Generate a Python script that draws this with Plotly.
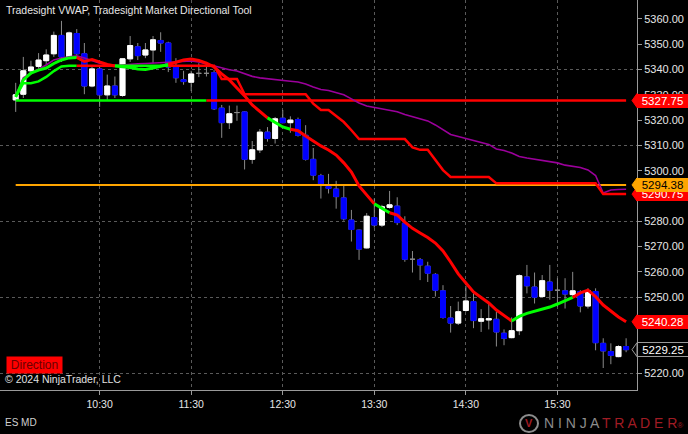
import plotly.graph_objects as go
import pandas as pd

# ---------------- data ----------------
session_start = "2024-08-07 09:35"
bar_times = pd.date_range(session_start, periods=81, freq="5min")

opens = [5328, 5330.25, 5339.5, 5341.25, 5343.5, 5346.25, 5353.5, 5345, 5354.25, 5346.25,
         5333.5, 5340.25, 5330, 5333.5, 5329.75, 5344.25, 5349, 5345.75, 5347.75, 5351.5,
         5350.5, 5341, 5336, 5335, 5338.5, 5338.5, 5338.75, 5324.75, 5319, 5323,
         5323.25, 5304.5, 5308.25, 5315.25, 5312.75, 5320.75, 5319, 5320.25, 5314, 5304.5,
         5298, 5293.75, 5292.75, 5289.25, 5280.5, 5276.5, 5269.5, 5281.5, 5278.5, 5285.5,
         5286, 5279.25, 5265, 5264.75, 5262.25, 5259, 5252.5, 5241.75, 5239.75, 5244.75,
         5248.25, 5240.5, 5241, 5241.25, 5235.75, 5234, 5236.75, 5258, 5254, 5250.25,
         5256, 5252.75, 5252.5, 5251, 5252.25, 5246.5, 5252.25, 5231.75, 5228.5, 5226.5,
         5230.5]
highs = [5334.75, 5345, 5343.5, 5346.5, 5348, 5355, 5359.25, 5355, 5356, 5350.5,
         5341.5, 5341.75, 5338, 5337.25, 5344.5, 5353.25, 5350.5, 5350.5, 5353.25, 5354.75,
         5351, 5344.5, 5339.5, 5339.5, 5342.5, 5343, 5339.75, 5326, 5325.75, 5325.75,
         5323.5, 5311.75, 5316.5, 5317.25, 5321.25, 5324, 5321.5, 5321, 5318, 5309,
         5298.75, 5298.75, 5296, 5294.5, 5284.5, 5276.75, 5283.25, 5289, 5286.5, 5292,
         5289.5, 5282, 5268.25, 5265.5, 5264, 5259.5, 5254.75, 5246.5, 5248.25, 5254.5,
         5251.5, 5245.25, 5247.5, 5244.25, 5237.25, 5242, 5259, 5262.75, 5259.75, 5258.75,
         5262.75, 5257.5, 5257.5, 5260, 5252.75, 5253.5, 5253.5, 5233.75, 5231.75, 5231,
         5233.75]
lows = [5323.25, 5328.75, 5338, 5339.75, 5341.75, 5345, 5343, 5344.5, 5344.5, 5330.25,
        5333, 5325.25, 5328, 5328.75, 5329.25, 5343, 5343.75, 5344.5, 5342.5, 5347,
        5339, 5334.75, 5334, 5331.5, 5337, 5337.25, 5324, 5313, 5316.5, 5319.75,
        5300.5, 5302.75, 5307, 5311.5, 5310.75, 5318.75, 5315, 5313.5, 5304, 5296.25,
        5289, 5291, 5285, 5280.25, 5272, 5264.75, 5269.25, 5277.5, 5277.75, 5285,
        5278.5, 5264, 5259.75, 5256.75, 5256, 5250.25, 5241.5, 5236, 5239, 5244.25,
        5237.75, 5236.25, 5237.25, 5230.5, 5231, 5233.75, 5235, 5251.5, 5247.5, 5250,
        5249, 5246.25, 5245.5, 5250, 5244, 5245.5, 5229, 5222, 5223.5, 5226.25,
        5228.25]
closes = [5330, 5339.5, 5341, 5343.75, 5345.75, 5353.5, 5345, 5354.5, 5346.25, 5333.5,
          5340.25, 5330, 5333.5, 5330, 5344.25, 5349.5, 5345.5, 5347.75, 5351.75, 5350.5,
          5341, 5336.75, 5335.25, 5338.25, 5338.5, 5338.5, 5324.5, 5319, 5322.5, 5323,
          5304.5, 5308.25, 5315.25, 5312.75, 5320.5, 5319, 5320, 5314, 5304.5, 5298.25,
          5294.5, 5293, 5289.75, 5281, 5276.75, 5269, 5282, 5278.5, 5285.75, 5286.5,
          5279.5, 5265, 5265, 5262.75, 5259.5, 5252.75, 5242, 5239.75, 5244.25, 5248.5,
          5240.75, 5241.5, 5241.5, 5236.25, 5233.75, 5236.75, 5258.5, 5254.5, 5250, 5256.5,
          5252.75, 5252.75, 5251.25, 5252.5, 5246.5, 5252.5, 5232, 5228.75, 5227, 5230.5,
          5229.25]

# Tradesight VWAP (magenta line)
vwap = [5329.6, 5336.7, 5338.6, 5340.2, 5341.8, 5343.8, 5344.6, 5345.0, 5345.4, 5344.6,
        5343.4, 5342.5, 5342.0, 5341.6, 5341.8, 5342.1, 5342.3, 5342.4, 5342.6, 5342.7,
        5342.9, 5343.2, 5343.4, 5343.4, 5343.0, 5342.2, 5341.4, 5340.4, 5339.9, 5339.4,
        5338.3, 5337.3, 5336.7, 5336.3, 5336.1, 5335.7, 5335.4, 5335.1, 5334.3, 5333.1,
        5332.1, 5331.7, 5330.9, 5330.0, 5328.4, 5326.8, 5325.6, 5325.0, 5324.5, 5324.0,
        5323.3, 5322.2, 5321.3, 5320.5, 5319.7, 5318.1, 5316.3, 5314.3, 5313.5, 5312.8,
        5312.0, 5311.2, 5310.4, 5308.6, 5308.0, 5307.0, 5305.6, 5305.0, 5304.6, 5304.2,
        5303.7, 5303.1, 5302.2, 5301.8, 5301.3, 5300.3, 5298.1, 5291.2, 5292.4, 5292.6,
        5292.7]

# Directional tool: fast trend line (green = up, red = down)
trend_fast = [5329.2, 5335.9, 5338.6, 5339.8, 5340.6, 5342.4, 5343.8, 5344.6, 5344.8, 5343.2,
              5344.0, 5342.9, 5342.0, 5341.4, 5341.2, 5340.8, 5340.2, 5340.0, 5340.6, 5341.2,
              5342.0, 5343.0, 5343.8, 5344.2, 5343.6, 5342.5, 5341.0, 5338.3, 5335.9, 5332.7,
              5329.6, 5326.0, 5323.6, 5320.9, 5319.1, 5317.3, 5316.4, 5315.8, 5313.7, 5311.6,
              5309.8, 5308.2, 5306.2, 5303.1, 5299.5, 5294.0, 5290.4, 5286.9, 5285.3, 5283.4,
              5282.5, 5279.7, 5277.2, 5275.4, 5273.6, 5271.4, 5268.3, 5263.9, 5259.2, 5255.6,
              5252.1, 5249.9, 5247.7, 5244.9, 5242.6, 5240.6, 5242.4, 5243.6, 5244.5, 5245.1,
              5246.1, 5247.3, 5248.7, 5249.9, 5251.7, 5252.8, 5250.2, 5246.9, 5244.5, 5242.2,
              5240.28]
trend_fast_dir = "GGGGGGGGG" "RRRRR" "GGGGGGG" "RRRRRRRRRRRRR" "GGG" "RRRRRRRRRRR" "GG" \
                 "RRRRRRRRRRRRRRRR" "GGGGGGGG" "RRRRRRR"

# Directional tool: stepped trailing line
trend_step = ([5329.2, 5334.6, 5334.6, 5335.3, 5337.1, 5339.4, 5341.2] + [5341.5] * 20 +
              [5336.25] * 3 + [5330.25] * 9 + [5326.5] + [5324.0] * 2 + [5321.5, 5319.25, 5316.0] +
              [5312.5] * 7 + [5309.25] + [5308.25] * 2 + [5304.25, 5300.25] + [5297.5] * 6 +
              [5295.0] * 14 + [5290.75] * 4)
trend_step_dir = "GGGGGGGGG" "RRRRR" "GGGGGGG" + "R" * 60

# Horizontal levels
level_open = [5327.75] * 81
level_open_dir = "G" * 26 + "R" * 55
level_orange = [5294.38] * 81

y_ticks = [5220, 5230, 5240, 5250, 5260, 5270, 5280, 5290, 5300, 5310, 5320, 5330, 5340, 5350, 5360]
y_grid = [5220, 5250, 5280, 5310, 5340]
x_tick_labels = ["10:30", "11:30", "12:30", "13:30", "14:30", "15:30"]
x_ticks = ["2024-08-07 " + t for t in x_tick_labels]

# ---------------- layout constants ----------------
W, H = 688, 434
ML, MR, MT, MB = 0, 51, 0, 44
PW, PH = W - ML - MR, H - MT - MB
YMIN, YMAX = 5213.3, 5367.5
XMIN, XMAX = "2024-08-07 09:24:43", "2024-08-07 16:22:08"
FONT = "Liberation Sans, Arial, sans-serif"
GREEN, RED, BLUE = "#00ff00", "#ff0000", "#0000ff"
PX_PER_PT = PH / (YMAX - YMIN)


def px_x(px):
    return (px - ML) / PW


def px_y(py):
    return 1 - (py - MT) / PH


def val_y(v):
    return (v - YMIN) / (YMAX - YMIN)


fig = go.Figure()

# candles: wicks + bodies (gray wick), then bodies recolored
fig.add_trace(go.Candlestick(
    x=bar_times, open=opens, high=highs, low=lows, close=closes,
    increasing=dict(line=dict(color="#8a8a8a", width=1), fillcolor="#ffffff"),
    decreasing=dict(line=dict(color="#8a8a8a", width=1), fillcolor=BLUE),
    whiskerwidth=0, hoverinfo="skip", showlegend=False))

b_open, b_close, b_hi, b_lo = [], [], [], []
for o, c in zip(opens, closes):
    if o == c:
        b_open.append(None); b_close.append(None); b_hi.append(None); b_lo.append(None)
    else:
        b_open.append(o); b_close.append(c); b_hi.append(max(o, c)); b_lo.append(min(o, c))
fig.add_trace(go.Candlestick(
    x=bar_times, open=b_open, high=b_hi, low=b_lo, close=b_close,
    increasing=dict(line=dict(color="#ffffff", width=1), fillcolor="#ffffff"),
    decreasing=dict(line=dict(color=BLUE, width=1), fillcolor=BLUE),
    whiskerwidth=0, hoverinfo="skip", showlegend=False))


def add_colored(values, dirs, width):
    n = len(values)
    start = 1
    while start < n:
        col = dirs[start]
        end = start
        while end + 1 < n and dirs[end + 1] == col:
            end += 1
        xs = list(bar_times[start - 1:end + 1])
        ys = values[start - 1:end + 1]
        fig.add_trace(go.Scatter(x=xs, y=ys, mode="lines",
                                 line=dict(color=GREEN if col == "G" else RED, width=width),
                                 hoverinfo="skip", showlegend=False))
        start = end + 1


fig.add_trace(go.Scatter(x=bar_times, y=level_orange, mode="lines",
                         line=dict(color="#ffa500", width=2), hoverinfo="skip", showlegend=False))
add_colored(level_open, level_open_dir, 2.5)
fig.add_trace(go.Scatter(x=bar_times, y=vwap, mode="lines",
                         line=dict(color="#9b009b", width=1.6), hoverinfo="skip", showlegend=False))
add_colored(trend_step, trend_step_dir, 2.5)
add_colored(trend_fast, trend_fast_dir, 3)

# invisible trace for the grid axis
fig.add_trace(go.Scatter(x=[bar_times[0]], y=[y_grid[0]], yaxis="y2", mode="markers",
                         marker=dict(opacity=0), hoverinfo="skip", showlegend=False))

shapes, annotations = [], []
flag_values = []


def flag(value, fill, text_color, border=None):
    flag_values.append(value)
    yc = val_y(value)
    hh = 7 / PH
    tip = px_x(632)
    shapes.append(dict(type="path", xref="paper", yref="paper", layer="above",
                       path=f"M {tip},{yc} L 1,{yc + hh} L 1,{yc - hh} Z",
                       fillcolor=fill, line=dict(color=border or fill, width=1)))
    annotations.append(dict(xref="paper", yref="paper", x=1.0, y=yc, xanchor="left", yanchor="middle",
                            text=f"{value:.2f}", showarrow=False, width=50 if border else 51,
                            height=13 if border else 14,
                            bgcolor=fill, bordercolor=border or fill, borderwidth=1 if border else 0,
                            borderpad=0, align="center",
                            font=dict(family=FONT, size=11.5, color=text_color)))


flag(level_open[-1], RED, "#ffffff")
flag(trend_step[-1], RED, "#ffffff")
flag(level_orange[-1], "#ffa500", "#000000")
flag(trend_fast[-1], RED, "#ffffff")
flag(closes[-1], "#000000", "#ffffff", border="#9a9a9a")

# tick labels fully hidden behind a price flag are left blank
y_ticktext = []
for v in y_ticks:
    covered = any(abs(v - f) * PX_PER_PT < 4 for f in flag_values)
    y_ticktext.append("" if covered else f"{v:.2f}")

logo_gray = " ".join("NINJA")
logo_red = " ".join("TRADER")
annotations += [
    dict(xref="paper", yref="paper", x=px_x(4), y=px_y(2), xanchor="left", yanchor="top",
         text="Tradesight VWAP, Tradesight Market Directional Tool", showarrow=False,
         font=dict(family=FONT, size=10.5, color="#e6e6e6")),
    dict(xref="paper", yref="paper", x=px_x(6), y=px_y(364.5), xanchor="left", yanchor="middle",
         text="Direction", showarrow=False, width=55, height=16, bgcolor=RED, borderpad=0,
         align="center", font=dict(family=FONT, size=12, color="#6a0000")),
    dict(xref="paper", yref="paper", x=px_x(3), y=px_y(378.5), xanchor="left", yanchor="middle",
         text="© 2024 NinjaTrader, LLC", showarrow=False,
         font=dict(family=FONT, size=10.5, color="#e0e0e0")),
    dict(xref="paper", yref="paper", x=px_x(3), y=px_y(423), xanchor="left", yanchor="middle",
         text="ES MD", showarrow=False, font=dict(family=FONT, size=10, color="#d0d0d0")),
    dict(xref="paper", yref="paper", x=px_x(542), y=px_y(423.5), xanchor="left", yanchor="middle",
         text=f'{logo_gray} <span style="color:#a01c24">{logo_red}</span>'
              '<span style="color:#a01c24;font-size:8px">®</span>',
         showarrow=False, font=dict(family=FONT, size=14, color="#8c8c8c")),
    dict(xref="paper", yref="paper", x=px_x(529), y=px_y(423.5), xanchor="center", yanchor="middle",
         text="<b>V</b>", showarrow=False, font=dict(family=FONT, size=11, color="#a01c24")),
]
shapes.append(dict(type="circle", xref="paper", yref="paper", layer="above",
                   x0=px_x(520), x1=px_x(538), y0=px_y(432), y1=px_y(415),
                   line=dict(color="#8c8c8c", width=2)))

fig.update_layout(
    width=W, height=H, margin=dict(l=ML, r=MR, t=MT, b=MB),
    paper_bgcolor="#000000", plot_bgcolor="#000000",
    showlegend=False, hovermode=False,
    boxgap=0.35, boxgroupgap=0,
    font=dict(family=FONT, color="#e0e0e0"),
    xaxis=dict(type="date", range=[XMIN, XMAX], rangeslider=dict(visible=False),
               tickvals=x_ticks, ticktext=x_tick_labels, ticks="outside", ticklen=4,
               tickcolor="#9a9a9a", showline=True, linecolor="#9a9a9a", linewidth=1,
               showgrid=True, gridcolor="#5a5a5a", griddash="dot", gridwidth=1,
               tickfont=dict(family=FONT, size=10.5, color="#e6e6e6"), zeroline=False),
    yaxis=dict(range=[YMIN, YMAX], side="right", tickvals=y_ticks,
               ticktext=y_ticktext, ticks="outside", ticklen=4,
               tickcolor="#9a9a9a", showline=True, linecolor="#9a9a9a", linewidth=1,
               showgrid=False, zeroline=False,
               tickfont=dict(family=FONT, size=11, color="#e6e6e6")),
    yaxis2=dict(range=[YMIN, YMAX], overlaying="y", side="right", tickvals=y_grid,
                showticklabels=False, ticks="", showgrid=True, gridcolor="#5a5a5a",
                griddash="dot", gridwidth=1, zeroline=False, showline=False),
    shapes=shapes, annotations=annotations,
)

fig.write_html("out.html", config={"displayModeBar": False},
               post_script="document.body.style.margin='0px';document.body.style.background='#000';")
